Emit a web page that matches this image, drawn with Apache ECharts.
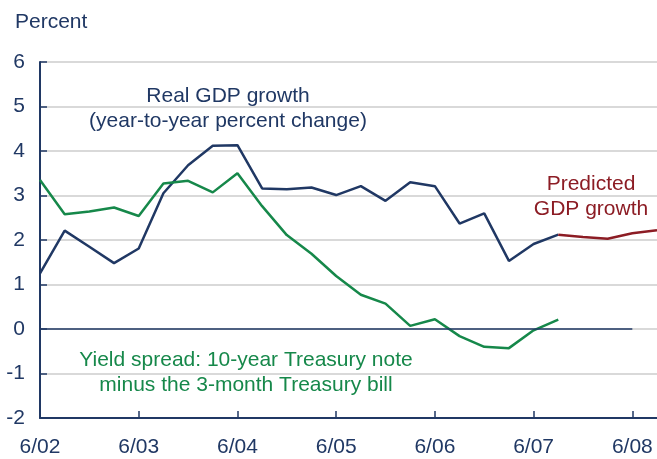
<!DOCTYPE html>
<html>
<head>
    <meta charset="utf-8">
    <title>GDP growth and yield spread</title>
    <style>
        html, body { margin: 0; padding: 0; background: #fff; }
        #main { width: 657px; height: 459px; }
    </style>
</head>
<body>
    <div id="main"></div>
    <script src="https://cdn.jsdelivr.net/npm/echarts@6/dist/echarts.min.js"></script>
    <script type="text/javascript">

        // quarterly, 6/02 .. 9/08
        const QUARTERS = ['6/02', '9/02', '12/02', '3/03', '6/03', '9/03', '12/03', '3/04', '6/04',
            '9/04', '12/04', '3/05', '6/05', '9/05', '12/05', '3/06', '6/06', '9/06', '12/06',
            '3/07', '6/07', '9/07', '12/07', '3/08', '6/08', '9/08'];

        const GDP_GROWTH = [1.25, 2.21, 1.85, 1.48, 1.81, 3.05, 3.68, 4.12, 4.13, 3.16, 3.14,
            3.18, 3.01, 3.21, 2.88, 3.30, 3.21, 2.37, 2.60, 1.53, 1.91, 2.12];

        const PREDICTED_GDP = [null, null, null, null, null, null, null, null, null, null, null,
            null, null, null, null, null, null, null, null, null, null, 2.12, 2.07, 2.03, 2.15, 2.22];

        const YIELD_SPREAD = [3.35, 2.58, 2.64, 2.73, 2.54, 3.27, 3.33, 3.07, 3.50, 2.76, 2.11,
            1.69, 1.19, 0.77, 0.57, 0.07, 0.22, -0.16, -0.40, -0.43, -0.03, 0.21];

        const NAVY = '#203864';
        const GREEN = '#16884a';
        const RED = '#8c1c24';
        const FONT = 'Liberation Sans, Arial, sans-serif';

        let myChart = echarts.init(document.getElementById('main'));

        var option = {
            animation: false,
            textStyle: { fontFamily: FONT },
            grid: { left: 40, right: 0, top: 62, bottom: 41 },
            title: {
                text: 'Percent',
                left: 10,
                top: 7,
                textStyle: { color: NAVY, fontSize: 21, fontWeight: 'normal', fontFamily: FONT }
            },
            xAxis: {
                type: 'category',
                data: QUARTERS,
                boundaryGap: false,
                axisLine: { onZero: false, lineStyle: { color: NAVY, width: 2 } },
                axisTick: { inside: true, length: 7, interval: 3, lineStyle: { color: NAVY, width: 1.5 } },
                axisLabel: { interval: 3, color: NAVY, fontSize: 21, margin: 19, fontFamily: FONT },
                splitLine: { show: false }
            },
            yAxis: {
                type: 'value',
                min: -2,
                max: 6,
                interval: 1,
                axisLine: { show: true, lineStyle: { color: NAVY, width: 2 } },
                axisTick: { show: true, inside: true, length: 7, lineStyle: { color: NAVY, width: 1.5 } },
                axisLabel: { color: NAVY, fontSize: 21, margin: 15, fontFamily: FONT },
                splitLine: { lineStyle: { color: '#cccccc', width: 1.5 } }
            },
            series: [
                {
                    name: 'Real GDP growth',
                    type: 'line',
                    data: GDP_GROWTH,
                    symbol: 'none',
                    lineStyle: { color: NAVY, width: 2.5 },
                    markLine: {
                        silent: true,
                        symbol: 'none',
                        label: { show: false },
                        lineStyle: { color: NAVY, width: 1.5, type: 'solid' },
                        data: [[{ coord: ['6/02', 0] }, { coord: ['6/08', 0] }]]
                    },
                    z: 3
                },
                {
                    name: 'Predicted GDP growth',
                    type: 'line',
                    data: PREDICTED_GDP,
                    symbol: 'none',
                    lineStyle: { color: RED, width: 2.5 },
                    z: 3
                },
                {
                    name: 'Yield spread',
                    type: 'line',
                    data: YIELD_SPREAD,
                    symbol: 'none',
                    lineStyle: { color: GREEN, width: 2.5 },
                    z: 4
                }
            ],
            graphic: [
                {
                    type: 'text',
                    style: {
                        text: 'Real GDP growth\n(year-to-year percent change)',
                        x: 228, y: 84, textAlign: 'center', fill: NAVY,
                        font: '21px ' + FONT, lineHeight: 25
                    }
                },
                {
                    type: 'text',
                    style: {
                        text: 'Predicted\nGDP growth',
                        x: 591, y: 172, textAlign: 'center', fill: RED,
                        font: '21px ' + FONT, lineHeight: 25
                    }
                },
                {
                    type: 'text',
                    style: {
                        text: 'Yield spread: 10-year Treasury note\nminus the 3-month Treasury bill',
                        x: 246, y: 348, textAlign: 'center', fill: GREEN,
                        font: '21px ' + FONT, lineHeight: 25
                    }
                }
            ]
        };

        myChart.setOption(option);

    </script>
</body>
</html>
